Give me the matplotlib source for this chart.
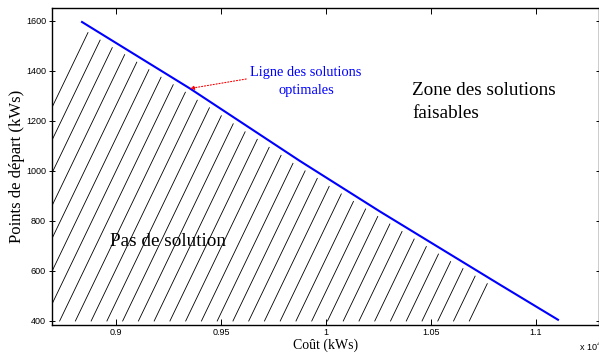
import numpy as np
import matplotlib
matplotlib.use('Agg')
import matplotlib.pyplot as plt
from matplotlib.ticker import FuncFormatter

# ligne des solutions optimales (cout en kWs, points de depart en kWs)
cout = [8838, 9352, 9876, 10257, 10829, 11105]
points = [1596, 1330, 1040, 838, 545, 405]

x_ticks = [9000, 9500, 10000, 10500, 11000]
y_ticks = [400, 600, 800, 1000, 1200, 1400, 1600]

serif = ['Liberation Serif', 'DejaVu Serif']
sans = ['Liberation Sans', 'DejaVu Sans']

fig = plt.figure(figsize=(5.99, 3.56), dpi=100)
ax = fig.add_axes([52/599, 1-325/356, 546.5/599, 317/356])

ax.plot(cout, points, color='blue', lw=1.5)

# hachures sous la ligne
pente = 1.747      # unites y par kWs
pas = 75.05        # kWs entre deux hachures
ecart = 28         # espace sous la ligne bleue
xs = np.linspace(cout[0], cout[-1], 2000)
ys = np.interp(xs, cout, points) - ecart
for k in range(34):
    xb = 8206 + k*pas
    yl = 400 + pente*(xs - xb)
    i = np.argmax(yl >= ys)
    ax.plot([xb, xs[i]], [400, yl[i]], color='black', lw=0.6)

ax.text(9905, 1358, 'Ligne des solutions\noptimales', color='blue',
        family=serif, fontsize=10.4, ha='center', va='center', linespacing=1.45)
xa = 9352
ax.annotate('', xy=(xa, np.interp(xa, cout, points)), xytext=(9620, 1368),
            arrowprops=dict(arrowstyle='-|>', color='red', lw=0.8, ls=':',
                            mutation_scale=6, shrinkA=0, shrinkB=0))
ax.text(10410, 1276, 'Zone des solutions\nfaisables', family=serif,
        fontsize=13.8, ha='left', va='center', linespacing=1.45)
ax.text(8971, 720, 'Pas de solution', family=serif, fontsize=13.8,
        ha='left', va='center')

ax.set_xlim(8695, 11298)
ax.set_ylim(384, 1652)
ax.set_xticks(x_ticks)
ax.set_yticks(y_ticks)
ax.xaxis.set_major_formatter(FuncFormatter(lambda v, p: f'{v/1e4:g}'))
ax.tick_params(axis='both', labelsize=6.5, length=4.5, width=0.7, pad=2,
               direction='in', top=True, right=True)
ax.tick_params(axis='y', direction='inout')
for lab in ax.get_xticklabels() + ax.get_yticklabels():
    lab.set_family(sans)
for s in ax.spines.values():
    s.set_linewidth(1.0)

ax.set_xlabel('Coût (kWs)', family=serif, fontsize=10, labelpad=1)
ax.set_ylabel('Points de départ (kWs)', family=serif, fontsize=12, labelpad=1)
fig.text(579/599, 1-353/356, 'x 10$^4$', family=sans, fontsize=6.5,
         ha='left', va='bottom')

fig.savefig('out.png', dpi=100)
